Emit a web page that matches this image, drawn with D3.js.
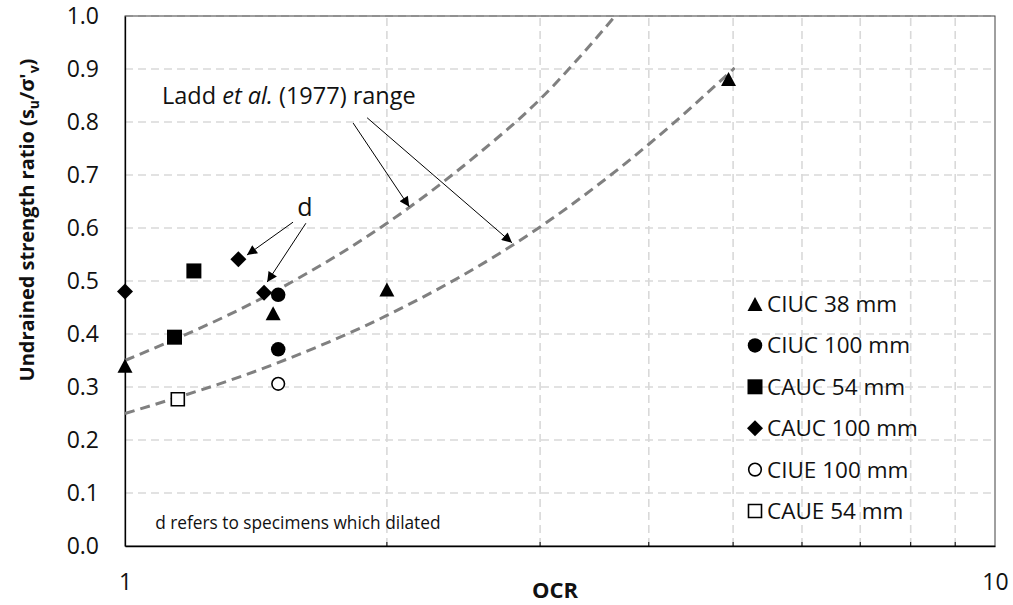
<!DOCTYPE html>
<html>
<head>
<meta charset="utf-8">
<script src="https://cdn.jsdelivr.net/npm/d3@7"></script>
<style>
  body { margin: 0; background: #fff; }
  svg { display: block; font-family: 'Open Sans', sans-serif; }
</style>
</head>
<body>
<svg id="chart" width="1013" height="605"></svg>
<script>
// series (OCR, su/sv')
const ciuc38Ocr = [1.0, 1.48, 2.0, 4.94];
const ciuc38Su = [0.34, 0.439, 0.484, 0.881];
const ciuc100Ocr = [1.5, 1.5];
const ciuc100Su = [0.474, 0.371];
const cauc54Ocr = [1.2, 1.14];
const cauc54Su = [0.519, 0.394];
const cauc100Ocr = [1.0, 1.35, 1.445];
const cauc100Su = [0.48, 0.541, 0.478];
const ciue100Ocr = [1.5];
const ciue100Su = [0.306];
const caue54Ocr = [1.15];
const caue54Su = [0.277];

// Ladd et al. (1977) range
const laddUpperOcr = [1.0, 1.5, 2.0, 2.5, 3.0, 3.66];
const laddUpperSu = [0.35, 0.484, 0.609, 0.729, 0.843, 1.0];
const laddLowerOcr = [1.0, 1.5, 2.0, 3.0, 4.0, 5.02];
const laddLowerSu = [0.25, 0.346, 0.435, 0.602, 0.758, 0.902];

const yTicks = [0, 0.1, 0.2, 0.3, 0.4, 0.5, 0.6, 0.7, 0.8, 0.9, 1.0];
const xMinor = [2, 3, 4, 5, 6, 7, 8, 9];
const xLabels = [1, 10];

const seriesNames = ['CIUC 38 mm', 'CIUC 100 mm', 'CAUC 54 mm', 'CAUC 100 mm', 'CIUE 100 mm', 'CAUE 54 mm'];
const seriesShapes = ['triangle', 'circle', 'square', 'diamond', 'circle', 'square'];
const seriesOpen = [false, false, false, false, true, true];

const margin = { top: 16, right: 18, bottom: 59, left: 125 };
const W = 1013, H = 605;
const svg = d3.select('#chart');
const ink = '#111';

const x = d3.scaleLog().domain([1, 10]).range([margin.left, W - margin.right]);
const y = d3.scaleLinear().domain([0, 1]).range([H - margin.bottom, margin.top]);
const x0 = x.range()[0], x1 = x.range()[1], yb = y.range()[0], yt = y.range()[1];

// grid
const grid = svg.append('g').attr('stroke', '#d9d9d9').attr('stroke-width', 1.6)
  .attr('stroke-dasharray', '8,5');
grid.selectAll('.hg').data(yTicks.slice(1)).join('line')
  .attr('x1', x0).attr('x2', x1).attr('y1', (d) => y(d)).attr('y2', (d) => y(d));
grid.selectAll('.vg').data(xMinor).join('line')
  .attr('x1', (d) => x(d)).attr('x2', (d) => x(d)).attr('y1', yb).attr('y2', yt);

// plot border
svg.append('rect').attr('x', x0).attr('y', yt).attr('width', x1 - x0).attr('height', yb - yt)
  .attr('fill', 'none').attr('stroke', '#404040').attr('stroke-width', 1);

// axes
const yAxis = d3.axisLeft(y).tickValues(yTicks).tickFormat(d3.format('.1f')).tickSize(0).tickPadding(26);
const yg = svg.append('g').attr('transform', `translate(${x0},0)`).call(yAxis);
yg.select('.domain').attr('stroke', '#000').attr('stroke-width', 1.3);
yg.selectAll('text').attr('font-size', 23).attr('font-family', 'Open Sans').attr('fill', ink);

const xAxis = d3.axisBottom(x).tickValues(xLabels).tickFormat(d3.format('d')).tickSize(0).tickPadding(28);
const xg = svg.append('g').attr('transform', `translate(0,${yb})`).call(xAxis);
xg.select('.domain').attr('stroke', '#000').attr('stroke-width', 1.3);
xg.selectAll('text').attr('font-size', 23).attr('font-family', 'Open Sans').attr('fill', ink);
// small inner ticks on the log axis
xg.selectAll('.minor').data(xMinor).join('line')
  .attr('x1', (d) => x(d)).attr('x2', (d) => x(d)).attr('y1', 0).attr('y2', -4)
  .attr('stroke', '#000').attr('stroke-width', 1);

// axis titles
svg.append('text').attr('x', 555).attr('y', 598).attr('text-anchor', 'middle')
  .attr('font-size', 22).attr('font-weight', 'bold').attr('fill', ink).text('OCR');
const yt2 = svg.append('text').attr('transform', 'translate(34,220) rotate(-90)')
  .attr('text-anchor', 'middle').attr('font-size', 20).attr('font-weight', 'bold').attr('fill', ink);
yt2.append('tspan').text('Undrained strength ratio (s');
yt2.append('tspan').attr('font-size', 14).attr('dy', 5).text('u');
yt2.append('tspan').attr('dy', -5).text('/σ\'');
yt2.append('tspan').attr('font-size', 14).attr('dy', 5).text('v');
yt2.append('tspan').attr('dy', -5).text(')');

// Ladd curves
const line = d3.line().x((d) => x(d[0])).y((d) => y(d[1])).curve(d3.curveMonotoneX);
[[laddUpperOcr, laddUpperSu], [laddLowerOcr, laddLowerSu]].forEach(([xs, ys]) => {
  svg.append('path').datum(xs.map((v, i) => [v, ys[i]]))
    .attr('d', line).attr('fill', 'none').attr('stroke', '#808080')
    .attr('stroke-width', 3).attr('stroke-dasharray', '10,6');
});

// markers
const shapePath = (shape) => {
  if (shape === 'triangle') return 'M0,-7L7.5,7L-7.5,7Z';
  if (shape === 'square') return 'M-7.5,-7.5H7.5V7.5H-7.5Z';
  if (shape === 'diamond') return 'M0,-8L8,0L0,8L-8,0Z';
  return d3.symbol(d3.symbolCircle, 165)();
};
const drawMarker = (g, shape, open) => g.append('path')
  .attr('d', open ? (shape === 'circle' ? d3.symbol(d3.symbolCircle, 125)() : 'M-6.5,-6.5H6.5V6.5H-6.5Z') : shapePath(shape))
  .attr('fill', open ? '#fff' : '#000')
  .attr('stroke', '#000').attr('stroke-width', open ? 1.6 : 0);

const seriesOcr = [ciuc38Ocr, ciuc100Ocr, cauc54Ocr, cauc100Ocr, ciue100Ocr, caue54Ocr];
const seriesSu = [ciuc38Su, ciuc100Su, cauc54Su, cauc100Su, ciue100Su, caue54Su];
seriesOcr.forEach((xs, s) => {
  xs.forEach((v, i) => {
    const g = svg.append('g').attr('transform', `translate(${x(v)},${y(seriesSu[s][i])})`);
    drawMarker(g, seriesShapes[s], seriesOpen[s]);
  });
});

// legend
seriesNames.forEach((name, i) => {
  const ly = 304 + i * 41.4;
  const g = svg.append('g').attr('transform', `translate(755,${ly})`);
  drawMarker(g, seriesShapes[i], seriesOpen[i]);
  svg.append('text').attr('x', 767).attr('y', ly + 8).attr('font-size', 22.5).attr('fill', ink).text(name);
});

// annotations
const defs = svg.append('defs');
defs.append('marker').attr('id', 'arr').attr('viewBox', '0 0 10 10').attr('refX', 10).attr('refY', 5)
  .attr('markerWidth', 13).attr('markerHeight', 10).attr('markerUnits', 'userSpaceOnUse').attr('orient', 'auto')
  .append('path').attr('d', 'M0,0L10,5L0,10Z').attr('fill', '#000');

const arrows = [
  [[1.829, 0.798], [2.122, 0.64]],
  [[1.898, 0.808], [2.785, 0.572]],
  [[1.56, 0.611], [1.381, 0.549]],
  [[1.614, 0.609], [1.457, 0.498]],
];
arrows.forEach(([a, b]) => {
  svg.append('line').attr('x1', x(a[0])).attr('y1', y(a[1])).attr('x2', x(b[0])).attr('y2', y(b[1]))
    .attr('stroke', '#000').attr('stroke-width', 1).attr('marker-end', 'url(#arr)');
});

const ladd = svg.append('text').attr('x', x(1.103)).attr('y', y(0.834)).attr('font-size', 23.5).attr('fill', ink);
ladd.append('tspan').text('Ladd ');
ladd.append('tspan').attr('font-style', 'italic').text('et al.');
ladd.append('tspan').text(' (1977) range');

svg.append('text').attr('x', x(1.61)).attr('y', y(0.623)).attr('text-anchor', 'middle')
  .attr('font-size', 25).attr('fill', ink).text('d');

svg.append('text').attr('x', x(1.083)).attr('y', y(0.032)).attr('font-size', 17.3).attr('fill', ink)
  .text('d refers to specimens which dilated');
</script>
</body>
</html>
